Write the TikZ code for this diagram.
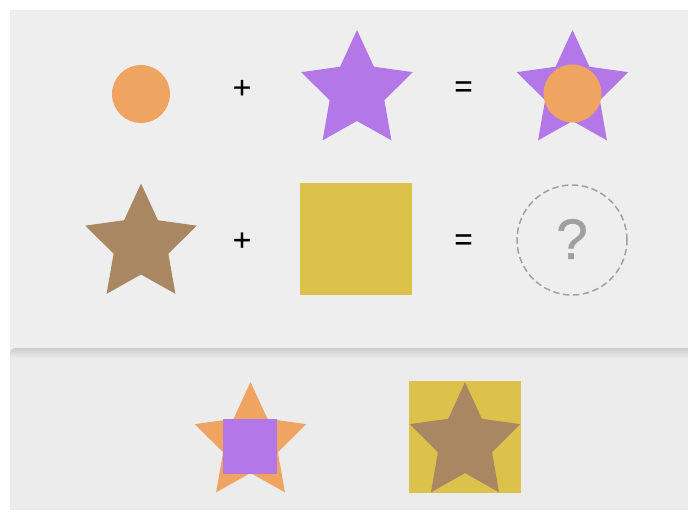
\documentclass[tikz,border=0pt]{standalone}
\usepackage{fontspec}
\setmainfont{Liberation Sans}
\newfontfamily\opfont[FakeBold=0.7]{Liberation Sans}
\definecolor{panelA}{HTML}{EEEEEE}
\definecolor{panelB}{HTML}{ECECEC}
\definecolor{shadowc}{HTML}{CDCDCD}
\definecolor{orangec}{HTML}{F0A462}
\definecolor{purplec}{HTML}{B377E8}
\definecolor{brownc}{HTML}{A98763}
\definecolor{yellowc}{HTML}{DCC24B}
\definecolor{greyq}{HTML}{A0A0A0}
\tikzset{
  pics/fstar/.style={code={\fill[#1] (-90:61) -- (-54:30) -- (-18:61) -- (18:30) -- (54:61) -- (90:30) -- (126:61) -- (162:30) -- (198:61) -- (234:30) -- cycle;}},
  opsign/.style={font=\opfont\fontsize{31}{31}\selectfont, text=black, inner sep=0pt},
  qmark/.style={font=\opfont\fontsize{57}{57}\selectfont, text=greyq, inner sep=0pt},
  dashcircle/.style={circle, draw=greyq, line width=1.5pt, dash pattern=on 6.5pt off 3.5pt, minimum size=110pt, inner sep=0pt},
}
\begin{document}
\begin{tikzpicture}[x=1pt,y=-1pt]
\useasboundingbox (0,0) rectangle (690,512);
\fill[white] (0,0) rectangle (690,512);
% upper panel
\fill[panelA] (10,10) rectangle (688,352);
% lower panel
\begin{scope}
\clip (10,510) {[rounded corners=5pt] -- (10,348) -- (300,348)} -- (688,348) -- (688,510) -- cycle;
\fill[panelB] (10,348) rectangle (688,510);
\shade[top color=shadowc, bottom color=panelB] (10,348) rectangle (688,358);
\end{scope}
% row 1
\fill[orangec] (141,94) circle[radius=29];
\node[opsign] (p1) at (242,89) {+};
\pic[xscale=0.96] (s1) at (357,91) {fstar=purplec};
\node[opsign] (e1) at (463.5,89) {=};
\pic[xscale=0.96] (s2) at (572.5,91) {fstar=purplec};
\fill[orangec] (572.5,93.5) circle[radius=29];
% row 2
\pic[xscale=0.96] (s3) at (141,244.5) {fstar=brownc};
\node[opsign] (p2) at (242,241.5) {+};
\fill[yellowc] (300,183) rectangle (412,295);
\node[opsign] (e2) at (463.5,242) {=};
\node[dashcircle] (dc) at (572,240) {};
\node[qmark] (q) at (572,239) {?};
% lower panel results
\pic[xscale=0.96] (s4) at (250.5,443) {fstar=orangec};
\fill[purplec] (223,419) rectangle (277,474);
\fill[yellowc] (409,381) rectangle (521,493);
\pic[xscale=0.95] (s5) at (465,443) {fstar=brownc};
\end{tikzpicture}
\end{document}
